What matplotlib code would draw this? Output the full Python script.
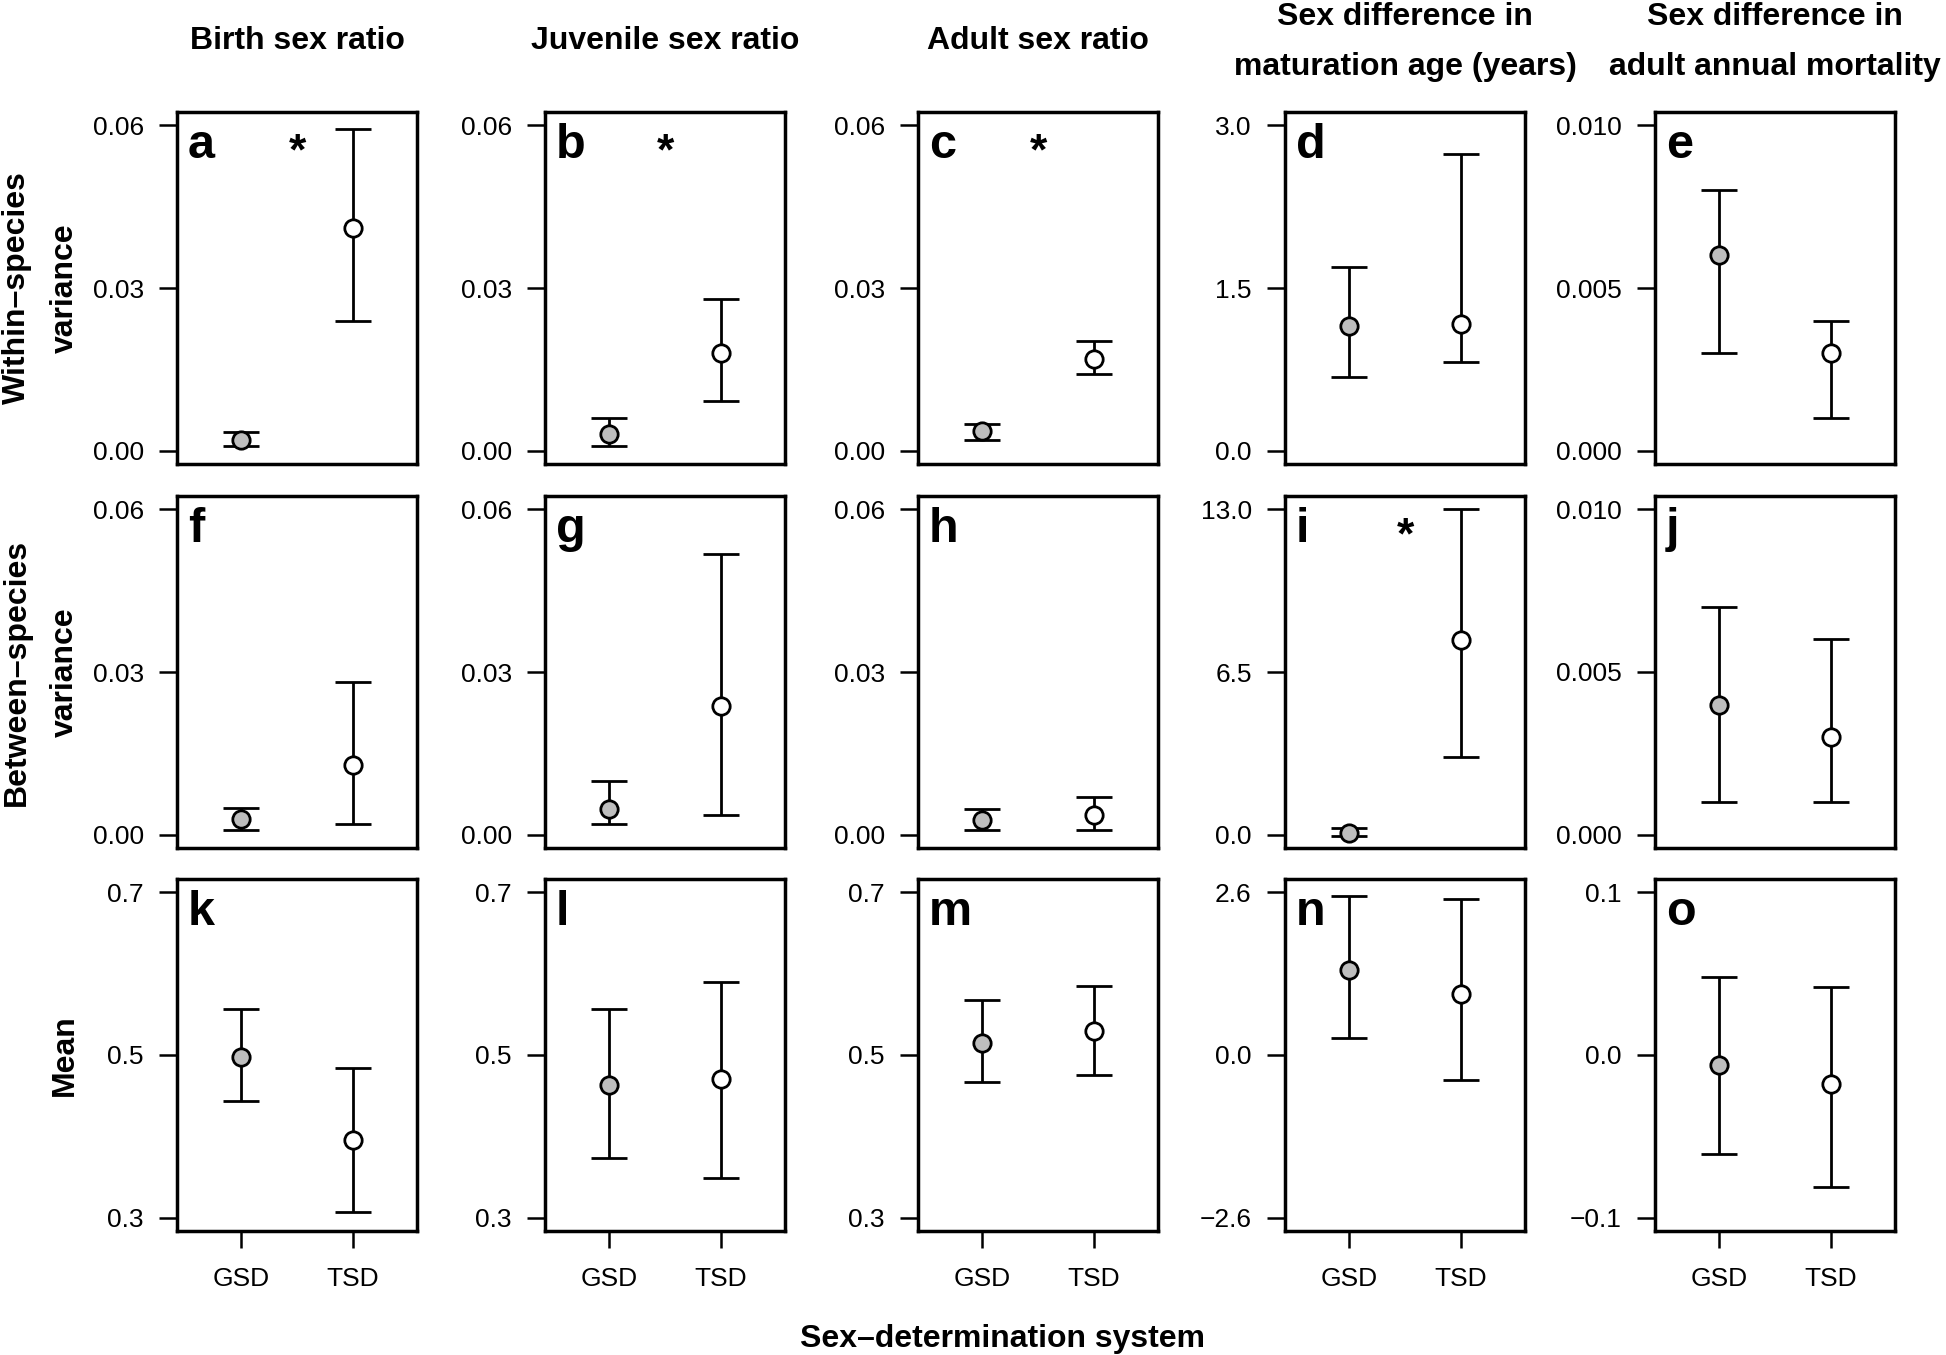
import matplotlib
matplotlib.use("Agg")
import matplotlib.pyplot as plt

plt.rcParams["font.family"] = ["Liberation Sans", "DejaVu Sans"]

# column headings, one entry per line
col_titles = [["Birth sex ratio"], ["Juvenile sex ratio"], ["Adult sex ratio"],
              ["Sex difference in", "maturation age (years)"],
              ["Sex difference in", "adult annual mortality"]]
row_titles = [["Within\u2013species", "variance"],
              ["Between\u2013species", "variance"],
              ["Mean"]]
groups = ["GSD", "TSD"]
letters = "abcdefghijklmno"

# y ticks for each panel (row by row)
yticks = [
    [0.0, 0.03, 0.06], [0.0, 0.03, 0.06], [0.0, 0.03, 0.06], [0.0, 1.5, 3.0], [0.0, 0.005, 0.010],
    [0.0, 0.03, 0.06], [0.0, 0.03, 0.06], [0.0, 0.03, 0.06], [0.0, 6.5, 13.0], [0.0, 0.005, 0.010],
    [0.3, 0.5, 0.7], [0.3, 0.5, 0.7], [0.3, 0.5, 0.7], [-2.6, 0.0, 2.6], [-0.1, 0.0, 0.1],
]
ytick_labels = [
    ["0.00", "0.03", "0.06"], ["0.00", "0.03", "0.06"], ["0.00", "0.03", "0.06"],
    ["0.0", "1.5", "3.0"], ["0.000", "0.005", "0.010"],
    ["0.00", "0.03", "0.06"], ["0.00", "0.03", "0.06"], ["0.00", "0.03", "0.06"],
    ["0.0", "6.5", "13.0"], ["0.000", "0.005", "0.010"],
    ["0.3", "0.5", "0.7"], ["0.3", "0.5", "0.7"], ["0.3", "0.5", "0.7"],
    ["\u22122.6", "0.0", "2.6"], ["\u22120.1", "0.0", "0.1"],
]

# estimates [GSD, TSD] with lower / upper interval ends
within_mid = [[0.0021, 0.041], [0.0032, 0.0181], [0.0037, 0.0169], [1.15, 1.17], [0.0060, 0.0030]]
within_low = [[0.0009, 0.024], [0.0009, 0.0092], [0.0021, 0.0142], [0.68, 0.815], [0.0030, 0.0010]]
within_high = [[0.0034, 0.0593], [0.0060, 0.0279], [0.0050, 0.0202], [1.69, 2.73], [0.0080, 0.0040]]

between_mid = [[0.0029, 0.0129], [0.0048, 0.0238], [0.0028, 0.0037], [0.09, 7.78], [0.0040, 0.0030]]
between_low = [[0.0009, 0.0020], [0.0020, 0.0037], [0.0009, 0.0009], [-0.04, 3.09], [0.0010, 0.0010]]
between_high = [[0.0050, 0.0281], [0.0099, 0.0518], [0.0048, 0.0069], [0.27, 13.0], [0.0070, 0.0060]]

mean_mid = [[0.497, 0.396], [0.463, 0.471], [0.515, 0.530], [1.36, 0.98], [-0.006, -0.018]]
mean_low = [[0.443, 0.307], [0.373, 0.349], [0.467, 0.476], [0.27, -0.40], [-0.061, -0.081]]
mean_high = [[0.556, 0.484], [0.556, 0.589], [0.567, 0.585], [2.54, 2.49], [0.048, 0.042]]

# panels with a significant difference
signif = ["a", "b", "c", "i"]

W, H = 1946, 1355
fig = plt.figure(figsize=(W / 100, H / 100), dpi=100)

box_left = [177, 545, 918, 1285, 1655]
box_top = [112, 496, 879]
box_w, box_h = 240, 352

mids = [within_mid, between_mid, mean_mid]
lows = [within_low, between_low, mean_low]
highs = [within_high, between_high, mean_high]
fills = ["#bebebe", "white"]

for r in range(3):
    for c in range(5):
        k = r * 5 + c
        ax = fig.add_axes([box_left[c] / W, 1 - (box_top[r] + box_h) / H, box_w / W, box_h / H])
        for g in range(2):
            m = mids[r][c][g]
            lo = lows[r][c][g]
            hi = highs[r][c][g]
            ax.errorbar([g + 1], [m], yerr=[[m - lo], [hi - m]], fmt="none",
                        ecolor="black", elinewidth=2.0, capsize=13, capthick=2.0, zorder=2)
            ax.plot([g + 1], [m], "o", ms=12.5, mfc=fills[g], mec="black", mew=2.0, zorder=3)

        y0, y2 = yticks[k][0], yticks[k][2]
        pad = (y2 - y0) * 0.04
        ax.set_ylim(y0 - pad, y2 + pad)
        ax.set_xlim(0.42, 2.58)
        ax.set_yticks(yticks[k])
        ax.set_yticklabels(ytick_labels[k], fontsize=19)
        if r == 2:
            ax.set_xticks([1, 2])
            ax.set_xticklabels(groups, fontsize=19)
        else:
            ax.set_xticks([])
        ax.tick_params(axis="y", length=13, width=1.8, pad=11)
        ax.tick_params(axis="x", length=12, width=1.8, pad=14)
        for s in ax.spines.values():
            s.set_linewidth(2.5)

        ax.text(0.045, 1 - 46 / box_h, letters[k], transform=ax.transAxes,
                fontsize=35, fontweight="bold", va="baseline", ha="left")
        if letters[k] in signif:
            ax.text(1.5, 1 - 52 / box_h, "*", transform=ax.get_xaxis_transform(),
                    fontsize=32, fontweight="bold", ha="center", va="baseline")

# column titles
for c in range(5):
    xc = (box_left[c] + box_w / 2) / W
    lines = col_titles[c]
    if len(lines) == 1:
        ys = [41]
    else:
        ys = [17, 67]
    for txt, yy in zip(lines, ys):
        fig.text(xc, 1 - yy / H, txt, fontsize=23, fontweight="bold", ha="center", va="center")

# row titles
for r in range(3):
    yc = 1 - (box_top[r] + box_h / 2) / H
    lines = row_titles[r]
    xs = [17, 65] if len(lines) == 2 else [65]
    for txt, xx in zip(lines, xs):
        fig.text(xx / W, yc, txt, fontsize=23, fontweight="bold", rotation=90,
                 ha="center", va="center")

fig.text(1003 / W, 1 - 1339 / H, "Sex\u2013determination system", fontsize=23,
         fontweight="bold", ha="center", va="center")

fig.savefig("out.png", dpi=100)
